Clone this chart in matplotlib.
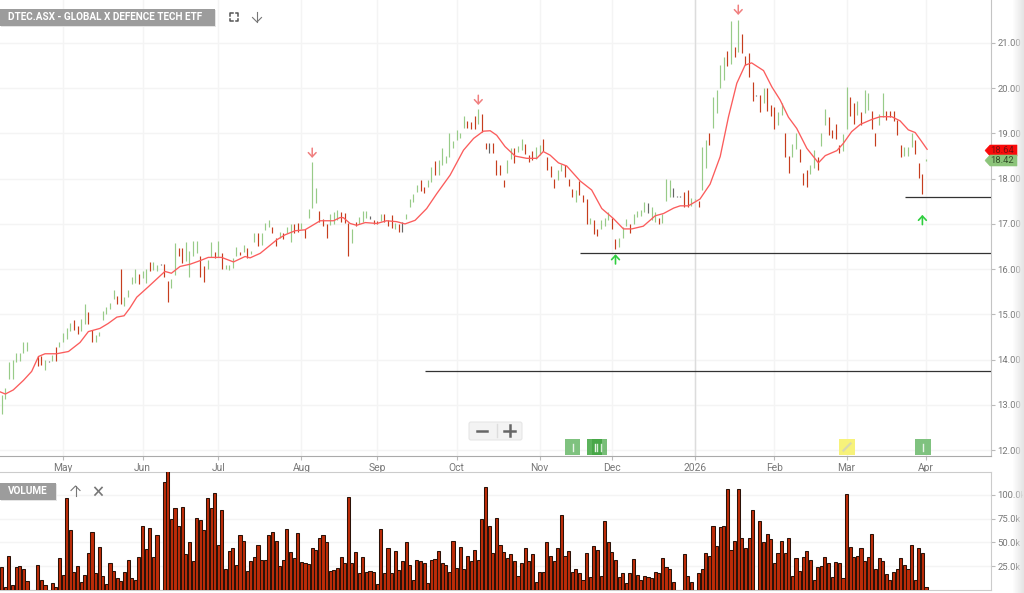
#!/usr/bin/env python3
# DTEC.ASX price / volume chart

import numpy as np
import pandas as pd
import matplotlib
matplotlib.use('Agg')
import matplotlib.pyplot as plt
from matplotlib.patches import FancyBboxPatch, Polygon, Rectangle

plt.rcParams['font.family'] = ['Roboto', 'DejaVu Sans']

# price bars, one per weekday from 8 Apr 2025
price_high = [13.22, 13.38, 13.94, 13.99, 14.15, 14.14, 14.38, 14.40, 14.40, 14.40,
              14.07, 14.08, 13.99, 13.96, 14.10, 14.28, 14.40, 14.58, 14.71, 14.80,
              14.88, 14.75, 14.89, 15.22, 15.06, 14.66, 14.55, 14.62, 15.08, 15.17,
              15.26, 15.55, 15.41, 16.00, 15.39, 15.55, 15.82, 16.00, 15.89, 15.97,
              16.00, 16.16, 16.15, 16.10, 16.12, 16.11, 15.74, 15.78, 16.57, 16.46,
              16.46, 16.59, 16.41, 16.62, 16.62, 16.29, 16.06, 16.20, 16.59, 16.39,
              16.62, 16.35, 16.09, 16.09, 16.24, 16.50, 16.39, 16.53, 16.46, 16.41,
              16.79, 16.81, 16.79, 17.01, 17.09, 16.93, 16.70, 16.83, 16.79, 16.93,
              17.00, 17.00, 17.01, 17.01, 16.88, 17.33, 18.36, 17.80, 17.29, 17.10,
              17.00, 17.21, 17.27, 17.31,
              17.27, 17.25, 17.02, 16.88, 17.05, 17.16, 17.29, 17.29, 17.17, 17.08,
              17.07, 17.22, 17.23, 17.08, 17.20, 17.01, 17.00, 17.05, 17.23, 17.56,
              17.66, 17.85, 17.98, 17.82, 17.98, 18.25, 18.39, 18.41, 18.67, 18.50,
              19.00, 18.84, 19.07, 19.00, 19.38, 19.27, 19.26, 19.38, 19.53, 19.43,
              18.79, 18.79, 18.79, 18.41, 18.30, 17.98, 18.41, 18.67, 18.67, 18.72,
              18.87, 18.77, 18.52, 18.62, 18.71, 18.74, 18.88, 18.49, 18.28, 18.00,
              18.19, 18.32, 18.30, 18.00, 17.78, 17.75, 17.95, 17.64, 17.56, 17.12,
              17.08, 16.89, 17.08, 17.12, 17.27, 17.14, 16.66, 16.70, 16.94, 17.10,
              17.00, 17.23, 17.29, 17.31, 17.49, 17.47, 17.38, 17.27, 17.12, 17.23,
              17.99, 17.97, 17.80, 17.61, 17.61,
              17.71, 17.75, 17.57, 17.56, 17.51, 18.70, 18.85, 19.02, 19.80, 19.95,
              20.51, 20.68, 20.83, 21.49, 20.92, 21.51, 21.20, 20.71, 20.77, 20.13,
              19.84, 19.85, 20.01, 20.00, 19.63, 19.58, 19.48, 19.67, 19.00, 18.50,
              18.77, 19.02, 18.66, 18.12, 18.19, 18.30, 18.63, 18.49, 19.02, 19.53,
              19.37, 19.08, 19.20, 18.74, 18.98, 20.02, 19.80, 19.68, 19.72, 19.48,
              19.95, 19.90, 19.50, 19.02, 19.44, 19.90, 19.50, 19.50, 19.50, 19.30,
              18.74, 18.71, 18.71, 19.00, 18.85, 18.34, 18.10, 18.44]
price_low = [12.80, 13.13, 13.58, 13.58, 13.94, 13.98, 14.14, 14.20, 14.38, 14.38,
             13.87, 13.88, 13.77, 13.94, 13.98, 13.98, 14.29, 14.38, 14.46, 14.64,
             14.66, 14.56, 14.64, 14.79, 14.78, 14.38, 14.38, 14.52, 14.88, 15.02,
             15.13, 15.33, 15.22, 15.22, 15.19, 15.39, 15.67, 15.69, 15.67, 15.80,
             15.70, 15.97, 15.98, 15.97, 16.10, 15.83, 15.28, 15.58, 15.87, 16.29,
             16.13, 16.17, 15.83, 16.29, 16.35, 15.83, 15.72, 16.00, 16.26, 16.24,
             16.26, 16.00, 16.00, 15.98, 16.03, 16.29, 16.31, 16.39, 16.25, 16.33,
             16.59, 16.51, 16.53, 16.87, 16.94, 16.79, 16.51, 16.68, 16.66, 16.79,
             16.59, 16.79, 16.83, 16.88, 16.70, 17.12, 17.35, 17.47, 17.04, 16.96,
             16.70, 16.98, 17.00, 17.09,
             17.05, 17.03, 16.28, 16.58, 16.95, 17.00, 17.05, 17.12, 17.10, 17.00,
             17.00, 17.07, 17.05, 16.96, 16.90, 16.89, 16.83, 16.83, 17.10, 17.37,
             17.49, 17.71, 17.73, 17.69, 17.81, 17.93, 18.08, 18.09, 18.30, 18.34,
             18.47, 18.67, 18.85, 18.89, 19.13, 19.11, 19.10, 19.09, 19.22, 19.04,
             18.65, 18.57, 18.57, 18.08, 18.08, 17.82, 18.12, 18.43, 18.35, 18.60,
             18.63, 18.54, 18.36, 18.41, 18.43, 18.52, 18.62, 18.19, 18.04, 17.80,
             17.98, 18.18, 18.04, 17.84, 17.59, 17.49, 17.64, 17.48, 16.99, 16.99,
             16.78, 16.74, 16.89, 16.96, 17.08, 16.89, 16.44, 16.50, 16.68, 16.95,
             16.81, 16.99, 17.16, 17.17, 17.27, 17.25, 17.09, 17.05, 17.00, 17.03,
             17.51, 17.60, 17.60, 17.59, 17.59,
             17.37, 17.37, 17.40, 17.54, 17.37, 17.76, 18.23, 18.74, 19.13, 19.46,
             20.00, 20.18, 20.49, 20.53, 20.68, 20.81, 20.77, 20.51, 20.24, 19.72,
             19.82, 19.48, 19.68, 19.50, 19.39, 19.09, 19.19, 19.41, 18.49, 18.12,
             18.47, 18.65, 18.38, 17.86, 17.82, 18.10, 18.23, 18.19, 18.72, 19.19,
             18.97, 18.91, 18.87, 18.56, 18.62, 19.09, 19.39, 19.22, 19.41, 19.19,
             19.46, 19.52, 19.09, 18.72, 19.19, 19.36, 19.30, 19.36, 19.28, 18.97,
             18.49, 18.51, 18.51, 18.71, 18.55, 18.02, 17.66, 18.40]

vol_k = [24, 3, 36, 5, 24, 25, 22, 9, 0, 0, 26, 10, 5, 0, 7, 3, 34, 16, 97, 63,
         19, 25, 8, 16, 39, 61, 18, 45, 15, 6, 28, 20, 13, 9, 19, 32, 13, 11, 35, 67,
         43, 65, 35, 58, 0, 113, 125, 75, 86, 67, 87, 38, 50, 31, 76, 74, 63, 97, 86, 102,
         47, 84, 22, 41, 44, 26, 58, 51, 20, 30, 35, 47, 32, 32, 58, 61, 52, 25, 32, 64,
         40, 34, 60, 29, 28, 27, 44, 42, 55, 58, 50, 20, 21, 23,
         35, 28, 98, 28, 40, 18, 35, 19, 20, 19, 6, 64, 18, 44, 18, 41, 21, 31, 50, 26,
         10, 32, 30, 28, 7, 32, 33, 41, 28, 26, 19, 51, 23, 45, 22, 36, 30, 42, 32, 75,
         108, 67, 39, 76, 47, 40, 34, 38, 30, 15, 28, 44, 30, 38, 8, 19, 19, 50, 36, 30,
         44, 79, 36, 41, 19, 22, 18, 11, 39, 14, 46, 42, 15, 73, 50, 40, 32, 14, 18, 7,
         18, 33, 16, 10, 15, 14, 13, 19, 18, 34, 24, 22, 8,
         0, 0, 38, 15, 8, 0, 18, 22, 39, 36, 67, 46, 66, 67, 106, 42, 52, 106, 55, 44,
         55, 84, 0, 73, 50, 59, 54, 28, 39, 52, 39, 55, 15, 34, 20, 35, 41, 32, 11, 24,
         25, 35, 28, 14, 29, 28, 13, 101, 45, 35, 36, 44, 31, 35, 59, 22, 34, 31, 17, 11,
         19, 22, 34, 26, 22, 47, 11, 44, 39, 3]

# bars read as red or as flat, all the others are green
red_bars = [10, 11, 15, 20, 21, 24, 25, 32, 33, 38, 41, 45, 46, 49, 50, 55, 56, 59, 61, 66,
            68, 71, 75, 76, 78, 81, 82, 84, 88, 89, 90, 94, 95, 96, 98, 103, 104, 106, 107, 108,
            110, 116, 117, 120, 129, 130, 131, 133, 134, 136, 137, 138, 139, 142, 145, 146, 147,
            150, 151, 152, 153, 156, 157, 158, 160, 161, 162, 164, 165, 169, 170, 174, 182,
            189, 190, 193, 196, 201, 203, 205, 206, 207, 208, 210, 212, 213, 214, 217, 218, 221,
            222, 223, 226, 229, 230, 231, 232, 235, 236, 238, 241, 242, 245, 246, 247, 248, 249,
            253, 254, 255]
flat_bars = [8, 9, 13, 44, 102, 111, 135, 179, 186, 187, 188, 209]

# moving average, read at these bar positions
ma_idx = [-0.5, 1, 3.2, 6, 8.3, 10.2, 12, 15.2, 18.5, 21.7, 24, 27.2, 29.5, 31.9, 33.9, 35.5,
          37.4, 40.6, 42.9, 45.2, 47, 49.4, 52.2, 55, 57.2, 60.9, 64.2, 67.4, 68.8, 71.6,
          76.2, 78.5, 81.3, 84, 85.9, 88.2, 91.9, 93.7, 94.6, 96.5, 98.3, 100.7, 103.9,
          106.6, 109.4, 111.7, 114.5, 117.7, 120.5, 124.2, 127.9, 130.7, 133.4, 135.3,
          137.1, 139.4, 142.2, 145.4, 148.2, 150, 151.9, 154.2, 156.5, 160.2, 163.4, 166.2,
          169.4, 172.2, 174.5, 177.7, 181, 183.3, 186.1, 187.9, 190.2, 193.4, 196.2, 199,
          201.3, 203.6, 205.9, 207.7, 211, 213.3, 215.6, 217.9, 220.2, 223, 226.2, 228.1,
          231.3, 233.1, 235.4, 237.8, 241, 243.3, 246.5, 248.8, 251.1, 253, 254.8, 256.3]
ma_val = [13.29, 13.24, 13.33, 13.54, 13.74, 14.07, 14.13, 14.13, 14.18, 14.38, 14.62, 14.69,
          14.80, 14.94, 14.97, 15.14, 15.38, 15.61, 15.78, 15.95, 15.91, 16.06, 16.11, 16.19,
          16.26, 16.26, 16.16, 16.28, 16.25, 16.35, 16.65, 16.76, 16.85, 16.87, 16.96, 17.07,
          17.07, 17.14, 17.14, 17.01, 16.97, 17.03, 17.01, 17.07, 17.05, 17.00, 17.08, 17.34,
          17.67, 18.08, 18.63, 18.89, 19.05, 19.06, 18.96, 18.71, 18.50, 18.45, 18.45, 18.60,
          18.52, 18.35, 18.28, 17.95, 17.75, 17.34, 17.12, 16.89, 16.89, 16.95, 17.18, 17.23,
          17.35, 17.40, 17.40, 17.55, 17.88, 18.49, 19.37, 20.11, 20.51, 20.56, 20.39, 20.03,
          19.74, 19.36, 19.11, 18.67, 18.35, 18.51, 18.62, 18.78, 19.04, 19.20, 19.31, 19.37,
          19.37, 19.28, 19.08, 19.02, 18.82, 18.65]

hline_start = [117.3, 160.2, 250.2]
hline_price = [13.75, 16.35, 17.60]

sell_idx = [86, 132, 204]
sell_price = [18.46, 19.63, 21.62]
buy_idx = [170, 255]
buy_price = [16.33, 17.20]

price_ticks = [12, 13, 14, 15, 16, 17, 18, 19, 20, 21]
vol_ticks = [25, 50, 75, 100]
month_dates = ['2025-05-01', '2025-06-02', '2025-07-01', '2025-08-01', '2025-09-01', '2025-10-01',
               '2025-11-03', '2025-12-01', '2026-01-01', '2026-02-02', '2026-03-02', '2026-04-01']
month_labels = ['May', 'Jun', 'Jul', 'Aug', 'Sep', 'Oct', 'Nov', 'Dec', '2026', 'Feb', 'Mar', 'Apr']
last_red = 18.64
last_green = 18.42

dates = pd.bdate_range('2025-04-08', periods=len(vol_k))
idx = np.arange(len(vol_k))
month_pos = [dates.searchsorted(pd.Timestamp(d)) for d in month_dates]

W, H = 1024, 593
fig = plt.figure(figsize=(W / 100, H / 100), dpi=100, facecolor='white')

def panel(top, bottom):
    return fig.add_axes([0, 1 - bottom / H, 991 / W, (bottom - top) / H])

GRID = '#f4f4f4'
TXT = '#777777'
TICK_SIZE = 6.8

# price panel
ax = panel(0, 456)
ax.set_xlim(-0.47, 274)
ax.set_ylim(11.87, 21.95)
ax.set_axisbelow(True)
ax.grid(True, color=GRID, lw=1)
ax.set_xticks(month_pos)
ax.set_xticklabels(month_labels)
ax.set_yticks(price_ticks)
ax.set_yticklabels(['%.2f' % p for p in price_ticks])
ax.yaxis.tick_right()
ax.tick_params(axis='y', length=3, color='#bbbbbb', labelcolor=TXT, labelsize=TICK_SIZE, pad=1.5)
ax.tick_params(axis='x', length=3, color='#bbbbbb', labelcolor=TXT, labelsize=TICK_SIZE + 0.6, pad=2)
for s in ['top', 'left']:
    ax.spines[s].set_visible(False)
ax.spines['right'].set_color('#c4c4c4')
ax.spines['bottom'].set_color('#aaaaaa')
ax.axvline(month_pos[8], color='#dcdcdc', lw=1, zorder=1)

colors = []
for i in idx:
    if i in flat_bars:
        colors.append('#666666')
    elif i in red_bars:
        colors.append('#c63d1e')
    else:
        colors.append('#98cb88')
ax.vlines(idx, price_low, price_high, colors=colors, lw=0.85, zorder=3)
ax.plot(ma_idx, ma_val, color='#fb5c5c', lw=0.95, zorder=4, solid_joinstyle='round')
ax.hlines(hline_price, hline_start, 274, color='#333333', lw=0.9, zorder=4)

for i, p in zip(sell_idx, sell_price):
    ax.annotate('', xy=(i, p), xytext=(0, 7), textcoords='offset points',
                arrowprops=dict(arrowstyle='->,head_width=0.28,head_length=0.3', color='#f07f7f',
                                lw=1.1, shrinkA=0, shrinkB=0, mutation_scale=10))
for i, p in zip(buy_idx, buy_price):
    ax.annotate('', xy=(i, p), xytext=(0, -7), textcoords='offset points',
                arrowprops=dict(arrowstyle='->,head_width=0.28,head_length=0.3', color='#2fce3f',
                                lw=1.2, shrinkA=0, shrinkB=0, mutation_scale=10))

# volume panel
ax2 = panel(472, 590)
ax2.set_xlim(-0.47, 274)
ax2.set_ylim(0, 124)
ax2.set_axisbelow(True)
ax2.grid(True, axis='y', color=GRID, lw=1)
ax2.bar(idx, vol_k, width=0.86, color='#bd2c08', edgecolor='#2a1208', lw=0.75, zorder=3)
ax2.set_xticks([])
ax2.set_yticks(vol_ticks)
ax2.set_yticklabels(['%.1fk' % v for v in vol_ticks])
ax2.yaxis.tick_right()
ax2.tick_params(axis='y', length=3, color='#bbbbbb', labelcolor=TXT, labelsize=TICK_SIZE, pad=1.5)
ax2.spines['left'].set_visible(False)
for s in ['top', 'right', 'bottom']:
    ax2.spines[s].set_color('#cccccc')

# chart furniture, placed in figure pixels
ui = fig.add_axes([0, 0, 1, 1], zorder=10)
ui.patch.set_alpha(0)
fade = np.ones((1, 12, 4))
fade[..., :3] = 0.9
fade[..., 3] = np.linspace(0, 1, 12)
ui.imshow(fade, extent=(1012, 1024, 593, 0), aspect='auto')
ui.set_xlim(0, W)
ui.set_ylim(H, 0)
ui.axis('off')

def label_box(x0, x1, y0, y1, text):
    ui.add_patch(Rectangle((x0 + 1, y0 + 1), x1 - x0, y1 - y0, color='#e4e4e4', lw=0))
    ui.add_patch(Rectangle((x0, y0), x1 - x0, y1 - y0, color='#9c9c9c', lw=0))
    ui.text(x0 + 8, (y0 + y1) / 2, text, color='white', fontsize=7.2, fontweight='bold', va='center', ha='left')

label_box(0, 215, 9, 26, 'DTEC.ASX - GLOBAL X DEFENCE TECH ETF')
label_box(0, 56, 483, 500, 'VOLUME')

# fullscreen corners
for cx, cy, dx, dy in [(230, 13, 1, 1), (238, 13, -1, 1), (230, 21, 1, -1), (238, 21, -1, -1)]:
    ui.plot([cx, cx, cx + 2.5 * dx], [cy + 2.5 * dy, cy, cy], color='#555555', lw=1.1)
# small arrows
ui.plot([257, 257], [12, 22], color='#777777', lw=0.8)
ui.plot([252.5, 257, 261.5], [17.5, 22, 17.5], color='#777777', lw=0.8)
ui.plot([75.5, 75.5], [486, 496], color='#777777', lw=0.8)
ui.plot([71, 75.5, 80], [490.5, 486, 490.5], color='#777777', lw=0.8)
ui.plot([95, 102], [487.5, 495], color='#777777', lw=1.2)
ui.plot([95, 102], [495, 487.5], color='#777777', lw=1.2)

# zoom buttons
ui.add_patch(FancyBboxPatch((469, 422), 53, 18, boxstyle='round,pad=0,rounding_size=2',
                            fc='#f3f3f3', ec='#e6e6e6', lw=0.8))
ui.plot([477, 487], [430.5, 430.5], color='#666666', lw=1.8)
ui.plot([504, 515], [430.5, 430.5], color='#666666', lw=1.8)
ui.plot([509.5, 509.5], [425, 436], color='#666666', lw=1.8)
ui.plot([496.5, 496.5], [424, 437], color='#dddddd', lw=1)

# event flags
for x0, w, col in [(565, 15, '#7fc27f'), (587, 15, '#5cb35c'), (915, 16, '#7fc27f')]:
    ui.add_patch(Rectangle((x0, 439), w, 16, color=col, lw=0))
    ui.plot([x0 + w / 2, x0 + w / 2], [443.5, 450.5], color='#e8f4e8', lw=1)
ui.add_patch(Rectangle((592, 439), 15, 16, color='#3fa33f', alpha=0.7, lw=0))
ui.plot([597, 597], [443.5, 450.5], color='#d8ecd8', lw=1)
ui.plot([601, 601], [443.5, 450.5], color='#d8ecd8', lw=1)
ui.add_patch(Rectangle((839, 439), 16, 16, color='#f7f27a', lw=0))
ui.plot([843.5, 850.5], [450.5, 443.5], color='#d8d8b0', lw=1.6)

# last price tags
def tag(y, col, text, tcol):
    pts = [(985, y), (990, y - 5.5), (1017, y - 5.5), (1017, y + 5.5), (990, y + 5.5)]
    ui.add_patch(Polygon(pts, closed=True, fc=col, ec=col, lw=0.4))
    ui.text(1014, y + 0.3, text, color=tcol, fontsize=TICK_SIZE, va='center', ha='right')

tag(150.5, '#fa0a0a', '%.2f' % last_red, '#7a1010')
tag(160.5, '#8cc47a', '%.2f' % last_green, '#33502a')

fig.savefig('out.png', dpi=100)
